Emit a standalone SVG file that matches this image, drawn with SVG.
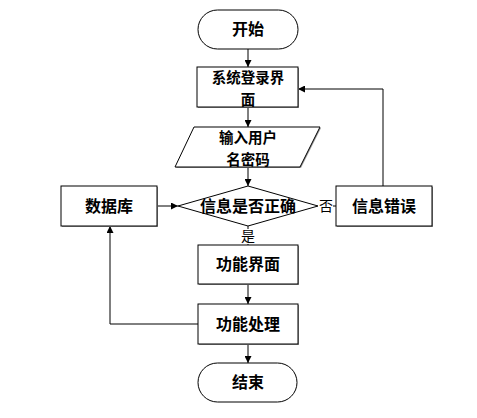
<svg xmlns="http://www.w3.org/2000/svg" width="477" height="418" viewBox="0 0 477 418">
<defs>
<marker id="arr" viewBox="0 0 10 10" refX="10" refY="5" markerWidth="7" markerHeight="7" markerUnits="userSpaceOnUse" orient="auto">
<path d="M0,0 L10,5 L0,10 z" fill="#000"/>
</marker>
<style>
.shape{fill:#fff;stroke:#000;stroke-width:1}
.shadow{fill:#999;stroke:none}
.t{font-family:"Noto Sans CJK SC","Noto Sans CJK JP",sans-serif;font-size:16px;font-weight:bold;fill:#000;text-anchor:middle}
.t2{font-size:14.5px}
.lbl{font-family:"Noto Sans CJK SC","Noto Sans CJK JP",sans-serif;font-size:14px;fill:#000;text-anchor:middle}
.c{fill:none;stroke:#000;stroke-width:1}
</style>
</defs>
<rect width="477" height="418" fill="#fff"/>
<g id="connectors">
<line class="c" x1="248" y1="49" x2="248" y2="67" marker-end="url(#arr)"/>
<line class="c" x1="248" y1="107" x2="248" y2="127" marker-end="url(#arr)"/>
<line class="c" x1="248" y1="167" x2="248" y2="186" marker-end="url(#arr)"/>
<line class="c" x1="318" y1="206" x2="336" y2="206"/>
<polyline class="c" points="383,186 383,89 298,89" marker-end="url(#arr)"/>
<line class="c" x1="158" y1="206" x2="178" y2="206" marker-end="url(#arr)"/>
<line class="c" x1="248" y1="226" x2="248" y2="245"/>
<line class="c" x1="248" y1="284" x2="248" y2="304" marker-end="url(#arr)"/>
<line class="c" x1="248" y1="344" x2="248" y2="363" marker-end="url(#arr)"/>
<polyline class="c" points="198,324 110,324 110,226" marker-end="url(#arr)"/>
</g>
<g id="start">
<rect class="shape" x="198" y="10" width="100" height="39" rx="19.5"/>
<text class="t" x="248" y="35">开始</text>
</g>
<g id="login">
<rect class="shadow" x="198" y="68" width="101" height="40"/>
<rect class="shape" x="197" y="67" width="101" height="40"/>
<text class="t t2" x="248" y="83">系统登录界</text>
<text class="t t2" x="248" y="104.5">面</text>
</g>
<g id="input">
<polygon class="shadow" points="195,128 321,128 301,168 176,168"/>
<polygon class="shape" points="194,127 320,127 300,167 175,167"/>
<text class="t t2" x="248" y="143">输入用户</text>
<text class="t t2" x="248" y="164.5">名密码</text>
</g>
<g id="check">
<polygon class="shape" points="248,186 318,206 248,226 178,206"/>
<text class="t" x="248" y="212">信息是否正确</text>
</g>
<g id="db">
<rect class="shadow" x="62" y="187" width="96" height="40"/>
<rect class="shape" x="61" y="186" width="96" height="40"/>
<text class="t" x="109" y="212">数据库</text>
</g>
<g id="error">
<rect class="shadow" x="337" y="187" width="96" height="40"/>
<rect class="shape" x="336" y="186" width="96" height="40"/>
<text class="t" x="384" y="212">信息错误</text>
</g>
<g id="labels">
<rect x="318" y="198" width="15" height="16" fill="#fff"/>
<text class="lbl" x="326" y="211">否</text>
<rect x="241" y="229" width="15" height="15" fill="#fff"/>
<text class="lbl" x="248" y="241">是</text>
</g>
<g id="func">
<rect class="shadow" x="199" y="246" width="100" height="39"/>
<rect class="shape" x="198" y="245" width="100" height="39"/>
<text class="t" x="248" y="270">功能界面</text>
</g>
<g id="process">
<rect class="shadow" x="199" y="305" width="100" height="40"/>
<rect class="shape" x="198" y="304" width="100" height="40"/>
<text class="t" x="248" y="330">功能处理</text>
</g>
<g id="end">
<rect class="shape" x="198" y="363" width="99" height="39" rx="19.5"/>
<text class="t" x="248" y="388">结束</text>
</g>
</svg>
